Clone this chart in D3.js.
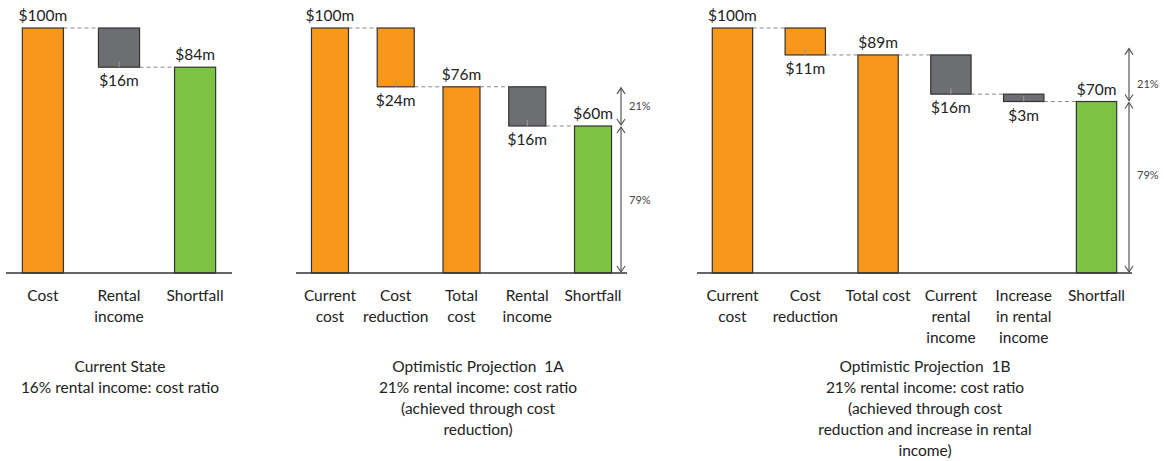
<!DOCTYPE html>
<html>
<head>
<meta charset="utf-8">
<script src="https://cdn.jsdelivr.net/npm/d3@7"></script>
<style>
  body { margin: 0; background: #fff; }
  svg text { font-family: Lato, "Open Sans", sans-serif; fill: #222; }
</style>
</head>
<body>
<svg id="chart"></svg>
<script>
// Total dimensions
var w = 1164,
    h = 461;

// ---- data ----
var stateCats = [["Cost"], ["Rental", "income"], ["Shortfall"]];
var stateValues = [100, -16, 84];
var stateTypes = ["cost", "income", "shortfall"];
var stateTitle = ["Current State", "16% rental income: cost ratio"];

var proj1aCats = [["Current", "cost"], ["Cost", "reduction"], ["Total", "cost"], ["Rental", "income"], ["Shortfall"]];
var proj1aValues = [100, -24, 76, -16, 60];
var proj1aTypes = ["cost", "reduction", "cost", "income", "shortfall"];
var proj1aTitle = ["Optimistic Projection  1A", "21% rental income: cost ratio", "(achieved through cost", "reduction)"];
var proj1aRatio = [76, 60, 0];
var proj1aRatioLabels = ["21%", "79%"];

var proj1bCats = [["Current", "cost"], ["Cost", "reduction"], ["Total cost"], ["Current", "rental", "income"], ["Increase", "in rental", "income"], ["Shortfall"]];
var proj1bValues = [100, -11, 89, -16, -3, 70];
var proj1bTypes = ["cost", "reduction", "cost", "income", "income", "shortfall"];
var proj1bTitle = ["Optimistic Projection  1B", "21% rental income: cost ratio", "(achieved through cost", "reduction and increase in rental", "income)"];
var proj1bRatio = [92, 70, 0];
var proj1bRatioLabels = ["21%", "79%"];

var colors = { cost: "#F7981D", reduction: "#F7981D", income: "#6D6E71", shortfall: "#7DC243" };
var isTotal = function(t) { return t === "cost" || t === "shortfall"; };

var svg = d3.select("#chart")
    .attr("width", w)
    .attr("height", h);

var baseY = 273;
var yScale = d3.scaleLinear().domain([0, 100]).range([baseY, 28]);

var drawPanel = function(cfg) {
    var g = svg.append("g");
    var n = cfg.cats.length;

    var xScale = d3.scaleBand()
        .domain(d3.range(n))
        .range([cfg.x0, cfg.x1])
        .paddingInner(cfg.pi)
        .paddingOuter(cfg.po);
    var bw = xScale.bandwidth();

    // running totals
    var run = 0;
    var bars = cfg.values.map(function(v, i) {
        var t = cfg.types[i], lo, hi;
        if (isTotal(t)) { lo = 0; hi = v; run = v; }
        else { hi = run; lo = run + v; run = lo; }
        return { i: i, v: v, t: t, lo: lo, hi: hi, level: run };
    });

    // dashed connectors
    g.selectAll(".conn")
        .data(bars.slice(0, n - 1))
        .enter().append("line")
        .attr("x1", function(d) { return xScale(d.i) + bw; })
        .attr("x2", function(d) { return xScale(d.i + 1); })
        .attr("y1", function(d) { return yScale(d.level); })
        .attr("y2", function(d) { return yScale(d.level); })
        .attr("stroke", "#8a8a8a")
        .attr("stroke-width", 1)
        .attr("stroke-dasharray", "4,3");

    // bars
    g.selectAll(".bar")
        .data(bars)
        .enter().append("rect")
        .attr("x", function(d) { return xScale(d.i); })
        .attr("y", function(d) { return yScale(d.hi); })
        .attr("width", bw)
        .attr("height", function(d) { return yScale(d.lo) - yScale(d.hi); })
        .attr("fill", function(d) { return colors[d.t]; })
        .attr("stroke", "#333")
        .attr("stroke-width", 1.2);

    // small tick in delta boxes
    g.selectAll(".tick")
        .data(bars.filter(function(d) { return !isTotal(d.t); }))
        .enter().append("line")
        .attr("x1", function(d) { return xScale(d.i) + bw / 2; })
        .attr("x2", function(d) { return xScale(d.i) + bw / 2; })
        .attr("y1", function(d) { return yScale(d.lo); })
        .attr("y2", function(d) { return yScale(d.lo) - 6; })
        .attr("stroke", "#999")
        .attr("stroke-width", 1);

    // value labels
    g.selectAll(".val")
        .data(bars)
        .enter().append("text")
        .attr("x", function(d) { return xScale(d.i) + bw / 2; })
        .attr("y", function(d) { return isTotal(d.t) ? yScale(d.hi) - 7 : yScale(d.lo) + 19; })
        .attr("text-anchor", "middle")
        .attr("font-size", "15.5px")
        .text(function(d) { return "$" + Math.abs(d.v) + "m"; });

    // baseline
    g.append("line")
        .attr("x1", cfg.x0).attr("x2", cfg.x1)
        .attr("y1", baseY).attr("y2", baseY)
        .attr("stroke", "#333")
        .attr("stroke-width", 1.5);

    // category labels
    var cat = g.selectAll(".cat")
        .data(cfg.cats)
        .enter().append("text")
        .attr("text-anchor", "middle")
        .attr("font-size", "15.5px")
        .attr("x", function(d, i) { return xScale(i) + bw / 2; })
        .attr("y", 301);
    cat.selectAll("tspan")
        .data(function(d) { return d; })
        .enter().append("tspan")
        .attr("x", function() { return d3.select(this.parentNode).attr("x"); })
        .attr("dy", function(d, j) { return j === 0 ? 0 : 21; })
        .text(function(d) { return d; });

    // title
    g.append("text")
        .attr("text-anchor", "middle")
        .attr("font-size", "15.5px")
        .style("white-space", "pre")
        .attr("y", 372)
        .selectAll("tspan")
        .data(cfg.title)
        .enter().append("tspan")
        .attr("x", cfg.titleX)
        .attr("dy", function(d, j) { return j === 0 ? 0 : 21; })
        .text(function(d) { return d; });

    // ratio arrows
    if (cfg.ratio) {
        var ax = cfg.arrowX;
        for (var k = 0; k < cfg.ratio.length - 1; k++) {
            var ya = yScale(cfg.ratio[k]), yb = yScale(cfg.ratio[k + 1]);
            var seg = g.append("g").attr("stroke", "#555").attr("stroke-width", 1.2).attr("fill", "none");
            seg.append("line").attr("x1", ax).attr("x2", ax).attr("y1", ya + 1).attr("y2", yb - 1);
            seg.append("path").attr("d", "M" + (ax - 4) + "," + (ya + 7) + "L" + ax + "," + (ya + 1) + "L" + (ax + 4) + "," + (ya + 7));
            seg.append("path").attr("d", "M" + (ax - 4) + "," + (yb - 7) + "L" + ax + "," + (yb - 1) + "L" + (ax + 4) + "," + (yb - 7));
            g.append("text")
                .attr("x", ax + 8)
                .attr("y", (ya + yb) / 2 + 4 + cfg.labelShift[k])
                .attr("font-size", "11px")
                .style("fill", "#444")
                .text(cfg.ratioLabels[k]);
        }
    }
};

drawPanel({ cats: stateCats, values: stateValues, types: stateTypes, title: stateTitle,
            x0: 6, x1: 232, pi: 0.46, po: 0.215, titleX: 120 });

drawPanel({ cats: proj1aCats, values: proj1aValues, types: proj1aTypes, title: proj1aTitle,
            x0: 296, x1: 627, pi: 0.437, po: 0.235, titleX: 478,
            ratio: proj1aRatio, ratioLabels: proj1aRatioLabels, arrowX: 621, labelShift: [0, 0] });

drawPanel({ cats: proj1bCats, values: proj1bValues, types: proj1bTypes, title: proj1bTitle,
            x0: 697, x1: 1132, pi: 0.446, po: 0.21, titleX: 925,
            ratio: proj1bRatio, ratioLabels: proj1bRatioLabels, arrowX: 1129, labelShift: [9, -12] });
</script>
</body>
</html>
